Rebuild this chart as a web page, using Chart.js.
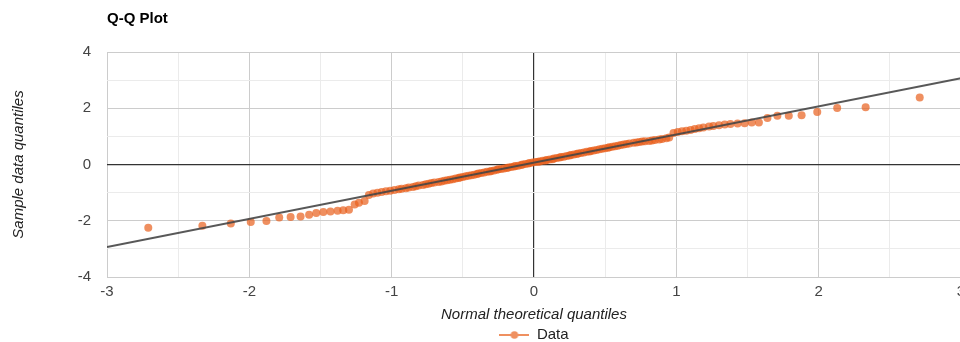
<!DOCTYPE html>
<html>
<head>
<meta charset="utf-8">
<script src="https://cdn.jsdelivr.net/npm/chart.js@4/dist/chart.umd.min.js"></script>
<style>
  html, body { margin: 0; padding: 0; background: #fff; overflow: hidden; }
  #wrap { width: 965px; height: 342px; }
</style>
</head>
<body>
<div id="wrap"><canvas id="qq" width="965" height="342"></canvas></div>
<script>
// theoretical normal quantiles (x) and sorted sample values (y), 150 points
const theoX = [
  -2.71,-2.33,-2.13,-1.99,-1.88,-1.79,-1.71,-1.64,-1.58,-1.53,
  -1.48,-1.43,-1.38,-1.34,-1.30,-1.26,-1.23,-1.19,-1.16,-1.13,
  -1.10,-1.07,-1.04,-1.01,-0.98,-0.95,-0.93,-0.90,-0.88,-0.85,
  -0.83,-0.81,-0.78,-0.76,-0.74,-0.72,-0.70,-0.67,-0.65,-0.63,
  -0.61,-0.59,-0.57,-0.55,-0.53,-0.52,-0.50,-0.48,-0.46,-0.44,
  -0.42,-0.40,-0.39,-0.37,-0.35,-0.33,-0.31,-0.30,-0.28,-0.26,
  -0.25,-0.23,-0.21,-0.19,-0.18,-0.16,-0.14,-0.13,-0.11,-0.09,
  -0.08,-0.06,-0.04,-0.03,-0.01,
  0.01,0.03,0.04,0.06,0.08,0.09,0.11,0.13,0.14,0.16,
  0.18,0.19,0.21,0.23,0.25,0.26,0.28,0.30,0.31,0.33,
  0.35,0.37,0.39,0.40,0.42,0.44,0.46,0.48,0.50,0.52,
  0.53,0.55,0.57,0.59,0.61,0.63,0.65,0.67,0.70,0.72,
  0.74,0.76,0.78,0.81,0.83,0.85,0.88,0.90,0.93,0.95,
  0.98,1.01,1.04,1.07,1.10,1.13,1.16,1.19,1.23,1.26,
  1.30,1.34,1.38,1.43,1.48,1.53,1.58,1.64,1.71,1.79,
  1.88,1.99,2.13,2.33,2.71
];
const sampleY = [
  -2.25,-2.18,-2.10,-2.04,-2.01,-1.88,-1.87,-1.85,-1.79,-1.72,
  -1.69,-1.67,-1.64,-1.63,-1.61,-1.42,-1.36,-1.30,-1.08,-1.03,
  -1.00,-0.98,-0.95,-0.93,-0.91,-0.88,-0.86,-0.84,-0.82,-0.80,
  -0.77,-0.75,-0.73,-0.70,-0.68,-0.66,-0.64,-0.62,-0.60,-0.58,
  -0.56,-0.54,-0.52,-0.50,-0.48,-0.46,-0.44,-0.42,-0.40,-0.38,
  -0.36,-0.34,-0.32,-0.30,-0.28,-0.26,-0.25,-0.23,-0.21,-0.19,
  -0.17,-0.16,-0.14,-0.12,-0.11,-0.09,-0.07,-0.05,-0.04,-0.02,
  0.00,0.02,0.04,0.05,0.07,
  0.09,0.10,0.11,0.13,0.14,0.16,0.18,0.19,0.21,0.23,
  0.25,0.27,0.28,0.30,0.32,0.34,0.36,0.37,0.39,0.41,
  0.43,0.45,0.46,0.48,0.50,0.52,0.54,0.56,0.58,0.60,
  0.61,0.63,0.65,0.67,0.69,0.71,0.73,0.75,0.77,0.78,
  0.80,0.82,0.83,0.84,0.85,0.87,0.89,0.91,0.93,0.96,
  1.12,1.16,1.18,1.20,1.23,1.26,1.29,1.32,1.35,1.37,
  1.40,1.42,1.44,1.46,1.47,1.49,1.49,1.65,1.73,1.73,
  1.75,1.87,2.01,2.04,2.38
];
// reference line end points
const refX = [-3, 3];
const refY = [-2.93, 3.07];

const FONT = '"Liberation Sans", Arial, sans-serif';
const dotColor = 'rgba(232, 96, 28, 0.7)';

// legend marker: short line with a dot in the middle
const marker = document.createElement('canvas');
marker.width = 30; marker.height = 10;
(() => {
  const c = marker.getContext('2d');
  c.strokeStyle = 'rgb(239,144,96)';
  c.lineWidth = 2;
  c.beginPath(); c.moveTo(0, 5); c.lineTo(30, 5); c.stroke();
  c.fillStyle = 'rgb(239,144,96)';
  c.beginPath(); c.arc(15, 5, 3.8, 0, Math.PI * 2); c.fill();
})();

const gridColor = (ctx, major) => {
  const v = ctx.tick ? ctx.tick.value : null;
  if (v === 0) return '#333';
  return major(v) ? '#cccccc' : '#ebebeb';
};

new Chart(document.getElementById('qq'), {
  data: {
    datasets: [
      {
        type: 'line',
        label: 'fit',
        data: refX.map((x, i) => ({ x, y: refY[i] })),
        borderColor: 'rgba(70,70,70,0.9)',
        borderWidth: 2,
        pointRadius: 0,
        order: 0
      },
      {
        type: 'scatter',
        label: 'Data',
        data: theoX.map((x, i) => ({ x, y: sampleY[i] })),
        backgroundColor: dotColor,
        borderWidth: 0,
        pointRadius: 4,
        pointHoverRadius: 4,
        order: 1
      }
    ]
  },
  options: {
    responsive: false,
    animation: false,
    events: [],
    layout: { padding: 0 },
    scales: {
      x: {
        type: 'linear',
        min: -3, max: 3,
        border: { display: false },
        afterFit: s => { s.height = 46.5; s.paddingLeft = 0; s.paddingRight = 0; },
        grid: {
          drawTicks: false,
          color: ctx => gridColor(ctx, v => Number.isInteger(v)),
          lineWidth: ctx => (ctx.tick && ctx.tick.value === 0) ? 1.2 : 1
        },
        ticks: {
          stepSize: 0.5,
          autoSkip: false,
          maxRotation: 0,
          padding: 6,
          color: '#444',
          font: { family: FONT, size: 15 },
          callback: v => Number.isInteger(v) ? String(v) : ''
        },
        title: {
          display: true,
          text: 'Normal theoretical quantiles',
          color: '#222',
          font: { family: FONT, size: 15, style: 'italic' },
          padding: { top: 0, bottom: 0 }
        }
      },
      y: {
        type: 'linear',
        min: -4, max: 4,
        border: { display: false },
        afterFit: s => { s.width = 107; },
        grid: {
          drawTicks: false,
          color: ctx => gridColor(ctx, v => v % 2 === 0),
          lineWidth: ctx => (ctx.tick && ctx.tick.value === 0) ? 1.2 : 1
        },
        ticks: {
          stepSize: 1,
          autoSkip: false,
          padding: 16,
          color: '#444',
          font: { family: FONT, size: 15 },
          callback: v => (v % 2 === 0) ? String(v) : ''
        },
        title: {
          display: true,
          text: 'Sample data quantiles',
          color: '#222',
          font: { family: FONT, size: 15, style: 'italic' },
          padding: { top: 10.3, bottom: 0 }
        }
      }
    },
    plugins: {
      title: {
        display: true,
        text: 'Q-Q Plot',
        align: 'start',
        fullSize: false,
        color: '#000',
        font: { family: FONT, size: 15, weight: 'bold' },
        padding: { top: 10, bottom: 24 }
      },
      legend: {
        position: 'bottom',
        fullSize: false,
        maxHeight: 18.5,
        labels: {
          usePointStyle: true,
          pointStyleWidth: 30,
          color: '#222',
          font: { family: FONT, size: 15 },
          padding: 4,
          generateLabels: () => [{
            text: 'Data',
            pointStyle: marker,
            fillStyle: dotColor,
            strokeStyle: dotColor,
            lineWidth: 0,
            hidden: false,
            datasetIndex: 1,
            fontColor: '#222'
          }]
        }
      },
      tooltip: { enabled: false }
    }
  }
});
</script>
</body>
</html>
